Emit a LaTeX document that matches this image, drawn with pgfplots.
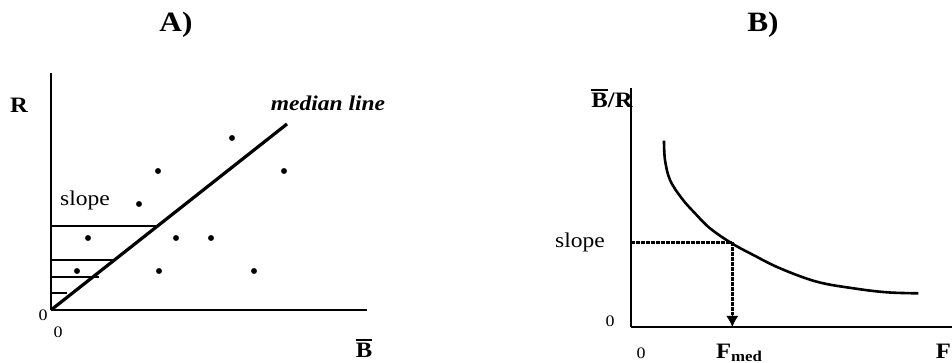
\documentclass[border=0pt]{standalone}
\usepackage{pgfplots}
\pgfplotsset{compat=1.18}
\usetikzlibrary{arrows.meta}
\usepackage{fontspec}
\setmainfont{Liberation Serif}
\newcommand{\sx}[1]{\scalebox{1.12}[1]{#1}}
\newcommand{\fs}[1]{\fontsize{#1}{#1}\selectfont}
\newcommand{\Bbar}{\vbox{\hrule height 1.8pt\kern 3pt\hbox{\bfseries B}}}
\begin{document}
\begin{tikzpicture}[x=1pt,y=1pt]
\useasboundingbox (0,0) rectangle (952,363);
% ---------- Panel A ----------
\begin{axis}[
  at={(51pt,53pt)}, anchor=south west,
  scale only axis, width=316pt, height=237pt,
  xmin=0, xmax=316, ymin=0, ymax=237,
  axis lines=left, axis line style={-, line width=2.8pt, black},
  xtick=\empty, ytick=\empty, clip=false,
]
\addplot[black, line width=3.2pt] coordinates {(0,0) (236,186)};
\addplot[black, line width=1.6pt] coordinates {(0,84) (107,84)};
\addplot[black, line width=1.6pt] coordinates {(0,50) (64,50)};
\addplot[black, line width=1.6pt] coordinates {(0,33) (48,33)};
\addplot[black, line width=1.6pt] coordinates {(0,17) (16,17)};
\addplot[only marks, mark=*, mark size=2.7pt, black] coordinates {
 (181,172) (107,139) (233,139) (88,106) (37,72) (125,72) (160,72)
 (26,39) (108,39) (203,39)};
\node at (axis cs:125,285) {\sx{\fs{28}\bfseries A)}};
\node at (axis cs:-32,205) {\sx{\fs{22}\bfseries R}};
\node at (axis cs:277,207) {\sx{\fs{21}\bfseries\itshape median line}};
\node at (axis cs:34,110) {\sx{\fs{21}slope}};
\node at (axis cs:-8,-5) {\sx{\fs{16}0}};
\node at (axis cs:7,-22) {\sx{\fs{16}0}};
\node[anchor=base, inner sep=0pt] at (axis cs:313,-48) {\sx{\fs{22}\Bbar}};
\end{axis}
% ---------- Panel B ----------
\begin{axis}[
  at={(631pt,36pt)}, anchor=south west,
  scale only axis, width=330pt, height=239pt,
  xmin=0, xmax=330, ymin=0, ymax=239,
  axis lines=left, axis line style={-, line width=2.8pt, black},
  xtick=\empty, ytick=\empty, clip=false,
]
\addplot[black, line width=2.6pt, smooth, tension=0.6] coordinates {
 (33,186.3) (34,167) (39,147) (50.7,128.7) (64,113.7) (79,98.7)
 (100.7,83.7) (122.3,72) (149,58.7) (185.7,45.3) (222.3,38.7)
 (255.7,34.7) (287.3,33.7)};
\addplot[black, line width=3pt, dash pattern=on 3.5pt off 1.5pt] coordinates {(0,84.7) (101.3,84.7)};
\addplot[black, line width=3pt, dash pattern=on 3.5pt off 1.5pt] coordinates {(101.3,84.7) (101.3,12)};
\addplot[black, line width=1pt, -{Latex[length=11pt,width=12pt]}] coordinates {(101.3,14) (101.3,0)};
\node at (axis cs:132,302) {\sx{\fs{28}\bfseries B)}};
\node[anchor=base, inner sep=0pt] at (axis cs:-19,219) {\sx{\fs{22}\bfseries \Bbar/R}};
\node at (axis cs:-51,85) {\sx{\fs{21}slope}};
\node at (axis cs:-21,6) {\sx{\fs{16}0}};
\node at (axis cs:10,-26) {\sx{\fs{16}0}};
\node[anchor=base, inner sep=0pt] at (axis cs:108,-32) {\sx{\fs{22}\bfseries F\raisebox{-2.5pt}{\fs{15}med}}};
\node[anchor=base east, inner sep=0pt] at (axis cs:320,-32) {\sx{\fs{22}\bfseries F}};
\end{axis}
\end{tikzpicture}
\end{document}
